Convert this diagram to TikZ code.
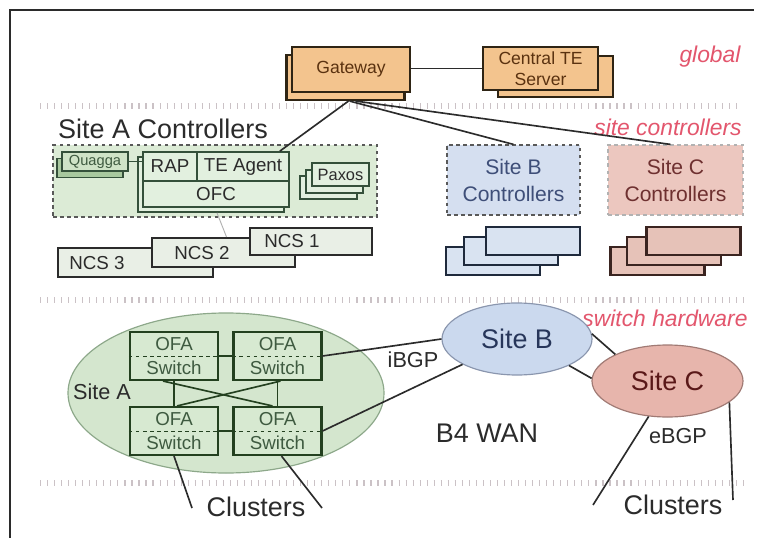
\documentclass[tikz,border=0pt]{standalone}
\usepackage{fontspec}
\setmainfont{Liberation Sans}
\usetikzlibrary{shapes.geometric,calc}

\definecolor{ink}{HTML}{2B2B2B}
\definecolor{gwfill}{HTML}{F3C48E}
\definecolor{gwdraw}{HTML}{2E2414}
\definecolor{gwtext}{HTML}{5A3210}
\definecolor{siteAfill}{HTML}{DCEBD6}
\definecolor{ofcfill}{HTML}{E2F0DF}
\definecolor{quagfill}{HTML}{CFE3C7}
\definecolor{quagback}{HTML}{A8C89E}
\definecolor{greendraw}{HTML}{34503A}
\definecolor{greentext}{HTML}{3E5A40}
\definecolor{ncsfill}{HTML}{E9EFE6}
\definecolor{sbfill}{HTML}{D5DFF0}
\definecolor{sbtext}{HTML}{3E4E78}
\definecolor{scfill}{HTML}{ECC7BF}
\definecolor{sctext}{HTML}{6E3030}
\definecolor{sbstack}{HTML}{D9E3F1}
\definecolor{sbstackdraw}{HTML}{1F2A3C}
\definecolor{scstack}{HTML}{E6C2B8}
\definecolor{scstackdraw}{HTML}{3A2420}
\definecolor{ellAfill}{HTML}{D4E6CE}
\definecolor{ellAdraw}{HTML}{8DA88A}
\definecolor{ofafill}{HTML}{D7E9D1}
\definecolor{ofadraw}{HTML}{23401F}
\definecolor{ellBfill}{HTML}{CBD9EE}
\definecolor{ellBdraw}{HTML}{8A96AE}
\definecolor{ellBtext}{HTML}{27365A}
\definecolor{ellCfill}{HTML}{E7B5AC}
\definecolor{ellCdraw}{HTML}{A07A74}
\definecolor{ellCtext}{HTML}{5A1818}
\definecolor{layer}{HTML}{E3566D}
\definecolor{sepcol}{HTML}{CBC2C6}

\newcommand{\fsBig}{\fontsize{23}{27}\selectfont}
\newcommand{\fsMid}{\fontsize{18.5}{22}\selectfont}
\newcommand{\fsLayer}{\fontsize{19.5}{22}\selectfont\itshape}
\newcommand{\fsCtl}{\fontsize{18}{23}\selectfont}
\newcommand{\fsBox}{\fontsize{16}{20.4}\selectfont}
\newcommand{\fsSmall}{\fontsize{14}{17}\selectfont}
\newcommand{\fsTiny}{\fontsize{12.5}{15}\selectfont}
\newcommand{\fsGw}{\fontsize{15}{18}\selectfont}

\tikzset{
  txt/.style={inner sep=0pt, text=ink},
  link/.style={draw=ink, line width=1.4pt},
  faint/.style={draw=gray!60, line width=0.8pt},
  sepline/.style={draw=sepcol, line width=5pt, dash pattern=on 1pt off 5pt},
  gwbox/.style={draw=gwdraw, fill=gwfill, line width=1.8pt, inner sep=0pt, text=gwtext, font=\fsGw, align=center},
  ctlbox/.style={draw=greendraw, fill=ofcfill, line width=1.5pt, inner sep=0pt, text=ink, font=\fsBox},
  ncsbox/.style={draw=ink, fill=ncsfill, line width=1.8pt, inner sep=0pt, minimum height=0.87cm},
  dashbox/.style={draw=gray!70!black, dashed, line width=1pt, inner sep=0pt},
  bstack/.style={draw=sbstackdraw, fill=sbstack, line width=1.8pt, minimum width=2.82cm, minimum height=0.84cm, inner sep=0pt},
  cstack/.style={draw=scstackdraw, fill=scstack, line width=1.8pt, minimum width=2.82cm, minimum height=0.84cm, inner sep=0pt},
  ofabox/.style={draw=ofadraw, fill=ofafill, line width=1.8pt, minimum width=2.64cm, minimum height=1.44cm, inner sep=0pt, align=center, font=\fsBox, text=greentext},
  layertxt/.style={inner sep=0pt, text=layer, font=\fsLayer},
}

\begin{document}
\begin{tikzpicture}[x=0.03cm, y=-0.03cm]
\useasboundingbox (0,0) rectangle (758,538);
\fill[white] (0,0) rectangle (758,538);

% frame
\draw[ink, line width=1pt] (10,538) -- (10,10) -- (754,10);

% tier separators
\draw[sepline] (40,106) -- (738,106);
\draw[sepline] (40,300) -- (745,300);
\draw[sepline] (40,483) -- (745,483);

% tier names
\node[layertxt] (lglobal) at (710,57) {global};
\node[layertxt] (lsite) at (668,127) {site controllers};
\node[layertxt] (lswitch) at (665,318) {switch hardware};

% ---------- global tier ----------
\node[gwbox, minimum width=3.54cm, minimum height=1.35cm] (gwback) at (345.5,77.5) {};
\node[gwbox, minimum width=3.54cm, minimum height=1.35cm] (gw) at (351,69.5) {Gateway};
\node[gwbox, minimum width=3.45cm, minimum height=1.23cm] (teback) at (555.5,76.5) {};
\node[gwbox, minimum width=3.45cm, minimum height=1.29cm] (te) at (540.5,68.5) {Central TE\\Server};
\draw[link] (gw.east |- te.west) -- (te.west);

% ---------- site controllers tier ----------
\node[txt, font=\fsBig, anchor=west] (salabel) at (58,129) {Site A Controllers};
\node[dashbox, fill=siteAfill, minimum width=9.72cm, minimum height=2.16cm] (siteA) at (215,181) {};

% Quagga
\node[draw=greendraw, fill=quagback, line width=1pt, minimum width=1.98cm, minimum height=0.57cm, inner sep=0pt] (quagb) at (90,168) {};
\node[draw=greendraw, fill=quagfill, line width=1pt, minimum width=1.98cm, minimum height=0.57cm, inner sep=0pt, font=\fsTiny, text=greentext] (quag) at (95,161.5) {Quagga};

% OFC stack
\node[ctlbox, minimum width=4.38cm, minimum height=1.65cm] (ofcback) at (211,184.5) {};
\node[ctlbox, minimum width=1.62cm, minimum height=0.87cm] (rap) at (170,166.5) {RAP};
\node[ctlbox, minimum width=2.76cm, minimum height=0.87cm] (teag) at (243,166.5) {TE Agent};
\node[ctlbox, minimum width=4.38cm, minimum height=0.78cm] (ofc) at (216,194) {OFC};
\draw[link, draw=greendraw] (quag.east) -- (quag.east -| rap.west);

% Paxos stack
\node[ctlbox, minimum width=1.71cm, minimum height=0.69cm] (paxb) at (328.5,187.5) {};
\node[ctlbox, minimum width=1.71cm, minimum height=0.69cm] (paxm) at (334.5,181.5) {};
\node[ctlbox, minimum width=1.71cm, minimum height=0.69cm, font=\fsSmall] (pax) at (340.5,174.5) {Paxos};

% NCS stack
\node[ncsbox, minimum width=4.65cm] (ncs3) at (135.5,262.5) {};
\node[txt, font=\fsBox] (ncs3t) at (97,263) {NCS 3};
\node[ncsbox, minimum width=4.29cm] (ncs2) at (223.5,252.5) {};
\node[txt, font=\fsBox] (ncs2t) at (202,253) {NCS 2};
\node[ncsbox, minimum width=3.66cm, minimum height=0.81cm] (ncs1) at (311,241.5) {};
\node[txt, font=\fsBox] (ncs1t) at (292,241) {NCS 1};
\draw[faint] ($(ofcback.south)+(6,0)$) -- ($(ncs2.north)+(3,0)$);

% Site B and C controllers
\node[dashbox, fill=sbfill, minimum width=3.99cm, minimum height=2.1cm, font=\fsCtl, text=sbtext, align=center] (sbc) at (513.5,180) {Site B\\Controllers};
\node[dashbox, draw=gray!60, fill=scfill, minimum width=4.05cm, minimum height=2.1cm, font=\fsCtl, text=sctext, align=center] (scc) at (675.5,180) {Site C\\Controllers};

\node[bstack] (sb3) at (493,261) {};
\node[bstack] (sb2) at (511,251) {};
\node[bstack] (sb1) at (533,241) {};
\node[cstack] (sc3) at (657.5,261) {};
\node[cstack] (sc2) at (674,251) {};
\node[cstack] (sc1) at (693.5,241) {};

% gateway to site controllers
\draw[link] ($(gwback.south)+(3,0)$) -- ($(teag.north east)+(-10,0)$);
\draw[link] ($(gwback.south)+(4,0)$) -- (sbc.north);
\draw[link] ($(gwback.south)+(10,0)$) -- ($(scc.north)+(-5,0)$);

% ---------- switch hardware tier ----------
\node[ellipse, draw=ellAdraw, fill=ellAfill, line width=1pt, minimum width=9.48cm, minimum height=4.8cm, inner sep=0pt] (ellA) at (226,393) {};
\node[txt, font=\fsMid] (ellAt) at (102,392) {Site A};

\node[ofabox] (tl) at (174,356) {OFA\\Switch};
\node[ofabox] (tr) at (277.5,356) {OFA\\Switch};
\node[ofabox] (bl) at (174,431) {OFA\\Switch};
\node[ofabox] (br) at (277.5,431) {OFA\\Switch};
\foreach \s in {tl,tr,bl,br}{
  \draw[ofadraw, dashed, line width=0.8pt] (\s.west) -- (\s.east);
}
\draw[link, draw=ofadraw] (tl.east) -- (tr.west);
\draw[link, draw=ofadraw] (bl.east) -- (br.west);
\draw[link, draw=ofadraw] (tl.south) -- (bl.north);
\draw[link, draw=ofadraw] (tr.south) -- (br.north);
\draw[link, draw=ofadraw] ($(tl.south)+(-11,0)$) -- ($(br.north)+(-5,0)$);
\draw[link, draw=ofadraw] ($(tr.south)+(3,0)$) -- ($(bl.north)+(3,0)$);

\node[ellipse, draw=ellBdraw, fill=ellBfill, line width=1pt, minimum width=4.5cm, minimum height=2.16cm, inner sep=0pt, font=\fsBig, text=ellBtext] (sB) at (517,339) {Site B};
\node[ellipse, draw=ellCdraw, fill=ellCfill, line width=1pt, minimum width=4.53cm, minimum height=2.16cm, inner sep=0pt, font=\fsBig, text=ellCtext] (sC) at (667.5,381) {Site C};

\draw[link] (tr.east) -- (sB.west);
\draw[link] (br.east) -- (sB.205);
\draw[link] (sB.4) -- (sC.153);
\draw[link] (sB.333) -- (sC.178);

\node[txt, font=\fsMid] (ibgp) at (413,360) {iBGP};
\node[txt, font=\fsBig] (wan) at (487,433) {B4 WAN};
\node[txt, font=\fsMid] (ebgp) at (678,436) {eBGP};

% clusters
\coordinate (clA1) at (192,508);
\coordinate (clA2) at (322,508);
\coordinate (clC1) at (593,505);
\coordinate (clC2) at (733,500);
\draw[link] (bl.south) -- (clA1);
\draw[link] ($(br.south)+(4,0)$) -- (clA2);
\draw[link] (sC.242) -- (clC1);
\draw[link] (sC.341) -- (clC2);
\node[txt, font=\fsBig] (clAt) at (256,507) {Clusters};
\node[txt, font=\fsBig] (clCt) at (673,505) {Clusters};
\end{tikzpicture}
\end{document}
